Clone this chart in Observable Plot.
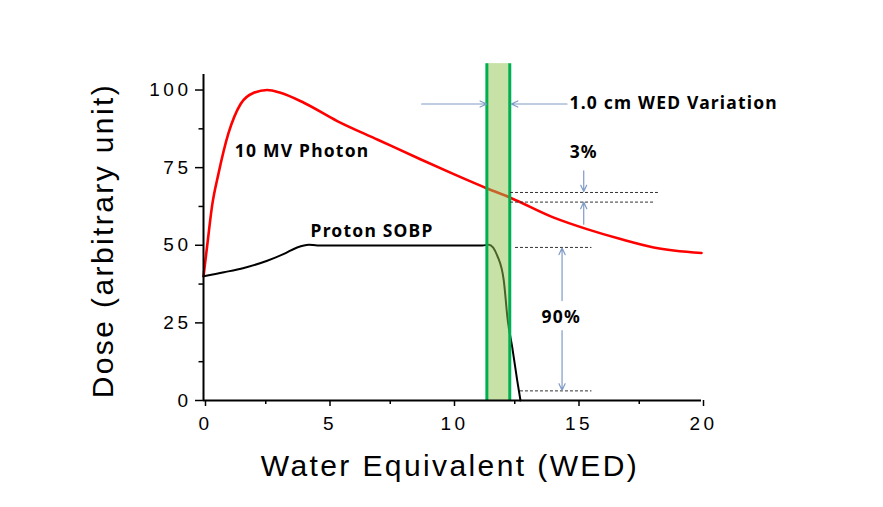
<!DOCTYPE html>
<html>
<head>
<meta charset="utf-8">
<script src="https://cdn.jsdelivr.net/npm/d3@7"></script>
<script src="https://cdn.jsdelivr.net/npm/@observablehq/plot@0.6"></script>
<style>
  html, body { margin: 0; padding: 0; background: #fff; }
</style>
</head>
<body>
<div id="chart"></div>
<script>
// 10 MV photon depth dose
const photonDepth = [0, 0.15, 0.35, 0.6, 1.0, 1.49, 2.02, 2.56, 3.09, 4.03, 5.37, 7.0, 8.71, 10.05, 11.39, 12.3, 14.07, 15.4, 16.75, 18.08, 20];
const photonDose  = [40, 50, 63, 73, 86, 95.5, 99.1, 100, 99.1, 95.9, 90, 84, 77.7, 72.9, 68.3, 65.4, 58.9, 55.2, 52, 49.3, 47.5];
// Proton SOBP
const protonDepth = [0, 0.82, 1.62, 2.56, 3.23, 3.76, 4.23, 4.57, 5, 8, 11.2, 11.46, 11.8, 12.06, 12.22, 12.4, 12.6, 12.73];
const protonDose  = [40, 41.3, 42.7, 45, 47.2, 49.3, 50.2, 49.9, 49.9, 49.9, 49.9, 50.2, 46.6, 38.6, 25.7, 17.1, 6.4, 0];

// WED variation band edges
const bandEdges = [11.38, 12.3];
const bandTop = 108.5;

// dashed reference levels
const dashLevel = [67, 63.9, 49.3, 3.1];
const dashStart = [12.33, 12.33, 12.53, 12.73];
const dashEnd   = [18.27, 18.15, 15.6, 15.6];

// arrows
const arrowX1 = [8.76, 14.6, 15.27, 15.27, 14.4, 14.4];
const arrowY1 = [95.5, 95.5, 74, 56.8, 32.2, 22.5];
const arrowX2 = [11.37, 12.36, 15.27, 15.27, 14.4, 14.4];
const arrowY2 = [95.5, 95.5, 67.3, 63.9, 49.1, 3.3];

// annotation labels
const noteText   = ["10 MV Photon", "Proton SOBP", "1.0 cm WED Variation", "3%", "90%"];
const noteX      = [1.26, 4.3, 14.7, 15.27, 14.37];
const noteY      = [80.3, 54.5, 95.6, 80, 26.8];
const noteAnchor = ["start", "start", "start", "middle", "middle"];

const xTicks = [0, 5, 10, 15, 20];
const xMinor = [2.5, 7.5, 12.5, 17.5];
const yTicks = [0, 25, 50, 75, 100];
const yMinor = [12.5, 37.5, 62.5, 87.5];

const photon = photonDepth.map((x, i) => ({x, y: photonDose[i]}));
const proton = protonDepth.map((x, i) => ({x, y: protonDose[i]}));
const dashes = dashLevel.map((y, i) => ({y, x1: dashStart[i], x2: dashEnd[i]}));
const arrows = arrowX1.map((x1, i) => ({x1, y1: arrowY1[i], x2: arrowX2[i], y2: arrowY2[i]}));
const notes = noteText.map((t, i) => ({t, x: noteX[i], y: noteY[i], a: noteAnchor[i]}));

const tickFont = "Liberation Sans, Arial, sans-serif";
const noteFont = "Noto Sans, DejaVu Sans, sans-serif";

const chart = Plot.plot({
  width: 883,
  height: 507,
  marginLeft: 203,
  marginRight: 182,
  marginTop: 74,
  marginBottom: 107,
  x: {domain: [0, 20]},
  y: {domain: [0, 105]},
  style: {fontFamily: tickFont, background: "#fff", color: "#000"},
  marks: [
    Plot.line(photon, {x: "x", y: "y", stroke: "#ff0000", strokeWidth: 2.6, curve: "monotone-x"}),
    Plot.line(proton, {x: "x", y: "y", stroke: "#000", strokeWidth: 2, curve: "monotone-x"}),
    Plot.rect([{x1: bandEdges[0], x2: bandEdges[1]}], {x1: "x1", x2: "x2", y1: 0, y2: bandTop, fill: "#8fc450", fillOpacity: 0.5}),
    Plot.ruleX(bandEdges, {y1: 0, y2: bandTop, stroke: "#00b050", strokeWidth: 3}),
    Plot.ruleY(dashes, {y: "y", x1: "x1", x2: "x2", stroke: "#333", strokeWidth: 1, strokeDasharray: "3,2"}),
    Plot.arrow(arrows, {x1: "x1", y1: "y1", x2: "x2", y2: "y2", stroke: "#7f9bc6", strokeWidth: 1.2, headLength: 9, headAngle: 50}),
    Plot.ruleY([0], {stroke: "#000", strokeWidth: 2}),
    Plot.ruleX([0], {stroke: "#000", strokeWidth: 2}),
    Plot.axisY({ticks: yTicks, tickSize: 8, tickPadding: 4, fontSize: 19, label: null, strokeWidth: 1.5}),
    Plot.axisY({ticks: yMinor, tickSize: 4.5, text: null, label: null, strokeWidth: 1.5}),
    Plot.axisX({ticks: xTicks, tickSize: 6, tickPadding: 10, fontSize: 19, label: null, strokeWidth: 1.5, dx: 2}),
    Plot.axisX({ticks: xMinor, tickSize: 4, text: null, label: null, strokeWidth: 1.5}),
    Plot.text(["Water Equivalent (WED)"], {x: 9.9, y: 0, dy: 66, text: d => d, fontSize: 30, lineAnchor: "middle", textAnchor: "middle", fill: "#000"}),
    Plot.text(["Dose (arbitrary unit)"], {x: 0, y: 51.5, dx: -100, text: d => d, rotate: -90, fontSize: 30, lineAnchor: "middle", textAnchor: "middle", fill: "#000"}),
    Plot.text(notes.filter(d => d.a === "start"), {x: "x", y: "y", text: "t", textAnchor: "start", lineAnchor: "middle", fontSize: 17.5, fontWeight: "bold", fontFamily: noteFont, fill: "#000"}),
    Plot.text(notes.filter(d => d.a === "middle"), {x: "x", y: "y", text: "t", textAnchor: "middle", lineAnchor: "middle", fontSize: 17.5, fontWeight: "bold", fontFamily: noteFont, fill: "#000"})
  ]
});

const svg = d3.select(chart);
svg.selectAll('g[font-size="19"] text').attr("letter-spacing", "3.5px");
svg.selectAll('g[font-size="30"] text').attr("letter-spacing", "2.4px");
svg.selectAll('g[font-weight="bold"] text').attr("letter-spacing", "1.2px");

document.getElementById("chart").appendChild(chart);
</script>
</body>
</html>
